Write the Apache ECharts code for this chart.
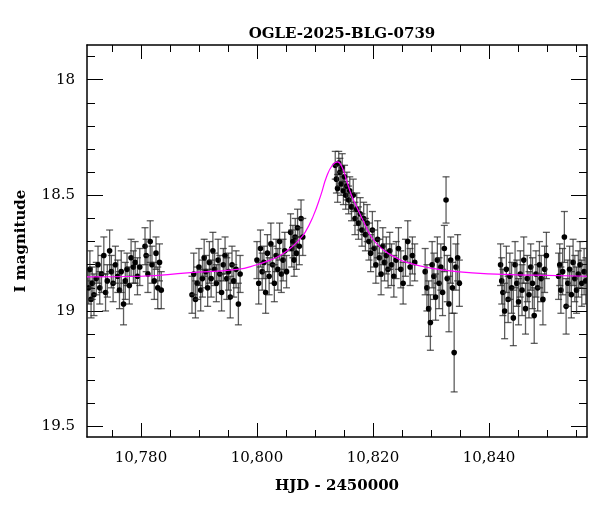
<!DOCTYPE html>
<html>
<head>
<meta charset="utf-8" />
<title>OGLE-2025-BLG-0739</title>
<script src="https://cdn.jsdelivr.net/npm/echarts@6.0.0/dist/echarts.min.js"></script>
<style>
  html, body { margin: 0; background: #fff; }
  #chart { width: 600px; height: 512px; }
</style>
</head>
<body>
<div id="chart"></div>
<script>
// photometry: [HJD-2450000, I mag, error]
const points = [
  [10771.0,18.90,0.07],[10771.2,18.82,0.08],[10771.4,18.95,0.08],[10771.6,18.88,0.07],[10771.9,18.93,0.09],
  [10772.3,18.86,0.07],[10772.6,18.80,0.08],[10772.9,18.90,0.07],[10773.2,18.84,0.08],[10773.6,18.76,0.08],
  [10773.9,18.92,0.08],[10774.2,18.87,0.07],[10774.6,18.74,0.09],[10774.9,18.83,0.07],[10775.2,18.88,0.08],
  [10775.6,18.80,0.08],[10776.0,18.85,0.07],[10776.3,18.91,0.08],[10776.6,18.83,0.09],[10777.0,18.97,0.09],
  [10777.3,18.87,0.08],[10777.6,18.82,0.07],[10778.0,18.89,0.08],[10778.3,18.77,0.08],[10778.7,18.81,0.07],
  [10779.0,18.79,0.09],[10779.4,18.85,0.08],[10779.8,18.81,0.08],
  [10780.7,18.72,0.08],[10780.9,18.76,0.07],[10781.2,18.84,0.08],[10781.6,18.70,0.09],[10781.9,18.80,0.08],
  [10782.3,18.87,0.08],[10782.6,18.75,0.07],[10782.9,18.90,0.09],[10783.2,18.79,0.08],[10783.5,18.91,0.08],
  [10788.8,18.93,0.08],[10789.1,18.84,0.09],[10789.4,18.95,0.08],[10789.7,18.88,0.07],[10790.0,18.81,0.08],
  [10790.3,18.91,0.09],[10790.6,18.86,0.08],[10790.9,18.77,0.08],[10791.2,18.83,0.07],[10791.5,18.90,0.08],
  [10791.8,18.79,0.09],[10792.1,18.86,0.08],[10792.4,18.74,0.08],[10792.7,18.82,0.07],[10793.0,18.88,0.08],
  [10793.3,18.78,0.09],[10793.6,18.84,0.08],[10793.9,18.92,0.08],[10794.2,18.80,0.07],[10794.5,18.76,0.08],
  [10794.8,18.86,0.09],[10795.1,18.83,0.08],[10795.4,18.94,0.09],[10795.7,18.80,0.08],[10796.0,18.87,0.07],
  [10796.4,18.82,0.08],[10796.8,18.97,0.09],[10797.1,18.84,0.08],
  [10800.0,18.78,0.08],[10800.3,18.88,0.09],[10800.6,18.73,0.08],[10800.9,18.83,0.08],[10801.2,18.79,0.07],
  [10801.5,18.92,0.09],[10801.8,18.75,0.08],[10802.1,18.85,0.08],[10802.4,18.71,0.09],[10802.7,18.80,0.08],
  [10803.0,18.88,0.08],[10803.3,18.76,0.07],[10803.6,18.82,0.09],[10803.9,18.70,0.08],[10804.2,18.84,0.08],
  [10804.5,18.78,0.09],[10804.8,18.74,0.08],[10805.1,18.83,0.07],
  [10805.8,18.66,0.08],[10806.0,18.73,0.08],[10806.2,18.70,0.07],[10806.4,18.78,0.07],[10806.6,18.68,0.08],
  [10806.8,18.75,0.07],[10807.0,18.64,0.08],[10807.3,18.72,0.08],[10807.6,18.60,0.08],[10807.9,18.68,0.08],
  [10813.5,18.37,0.06],[10813.7,18.43,0.06],[10813.9,18.47,0.06],[10814.1,18.36,0.05],[10814.3,18.40,0.06],
  [10814.5,18.45,0.05],[10814.7,18.38,0.06],[10814.9,18.48,0.06],[10815.1,18.42,0.05],[10815.3,18.50,0.06],
  [10815.5,18.46,0.06],[10815.8,18.52,0.06],[10816.0,18.48,0.06],[10816.3,18.55,0.06],[10816.6,18.50,0.07],
  [10816.9,18.60,0.07],[10817.2,18.56,0.07],[10817.5,18.62,0.07],[10817.8,18.58,0.07],[10818.1,18.65,0.07],
  [10818.4,18.60,0.07],[10818.7,18.67,0.07],[10819.0,18.62,0.08],[10819.3,18.70,0.08],[10819.6,18.75,0.08],
  [10819.9,18.65,0.08],[10820.2,18.73,0.08],[10820.5,18.80,0.08],[10820.8,18.69,0.08],[10821.1,18.77,0.08],
  [10821.4,18.84,0.09],[10821.7,18.72,0.08],[10822.0,18.79,0.08],[10822.3,18.76,0.08],[10822.6,18.82,0.08],
  [10822.9,18.74,0.08],[10823.2,18.80,0.09],[10823.6,18.85,0.09],[10824.0,18.78,0.08],[10824.4,18.73,0.09],
  [10824.8,18.82,0.08],[10825.2,18.88,0.09],[10825.6,18.77,0.08],[10826.0,18.70,0.09],[10826.4,18.81,0.08],
  [10826.8,18.76,0.08],[10827.2,18.79,0.08],
  [10829.0,18.83,0.10],[10829.3,18.90,0.10],[10829.6,18.99,0.12],[10829.9,19.05,0.12],[10830.2,18.80,0.10],
  [10830.5,18.85,0.10],[10830.8,18.94,0.10],[10831.1,18.78,0.10],[10831.4,18.88,0.11],[10831.7,18.81,0.10],
  [10832.0,18.92,0.10],[10832.3,18.73,0.10],[10832.6,18.52,0.10],[10832.8,18.86,0.10],[10833.1,18.97,0.12],
  [10833.4,18.78,0.10],[10833.7,18.90,0.11],[10834.0,19.18,0.17],[10834.3,18.81,0.10],[10834.6,18.77,0.10],
  [10834.9,18.88,0.10],
  [10842.0,18.80,0.09],[10842.2,18.87,0.10],[10842.4,18.92,0.10],[10842.7,19.00,0.12],[10843.0,18.82,0.10],
  [10843.3,18.95,0.10],[10843.6,18.85,0.10],[10843.9,18.90,0.11],[10844.2,19.03,0.12],[10844.5,18.80,0.10],
  [10844.8,18.88,0.10],[10845.1,18.96,0.10],[10845.4,18.84,0.10],[10845.7,18.91,0.11],[10846.0,18.78,0.10],
  [10846.3,18.99,0.11],[10846.6,18.86,0.10],[10846.9,18.93,0.10],[10847.2,18.81,0.10],[10847.5,18.88,0.11],
  [10847.8,19.02,0.12],[10848.1,18.84,0.10],[10848.4,18.90,0.10],[10848.7,18.80,0.10],[10849.0,18.86,0.10],
  [10849.3,18.95,0.11],[10849.6,18.82,0.10],[10849.9,18.76,0.10],
  [10852.0,18.85,0.10],[10852.2,18.80,0.09],[10852.4,18.91,0.10],[10852.7,18.83,0.10],[10853.0,18.68,0.11],
  [10853.3,18.98,0.12],[10853.6,18.88,0.10],[10853.9,18.82,0.10],[10854.2,18.93,0.10],[10854.5,18.79,0.10],
  [10854.8,18.86,0.10],[10855.1,18.91,0.10],[10855.4,18.84,0.10],[10855.7,18.80,0.10],[10856.0,18.88,0.10],
  [10856.4,18.83,0.10],[10856.7,18.87,0.10]
];

// fitted model curve
const model = [
  [10770.7,18.853],[10780,18.85],[10788,18.835],[10796.6,18.82],[10800,18.80],[10802.3,18.78],
  [10804,18.76],[10805.7,18.73],[10807,18.70],[10808.3,18.66],[10809.7,18.59],[10811,18.50],
  [10812,18.42],[10813,18.37],[10813.9,18.355],[10814.7,18.38],[10815.5,18.44],[10816.3,18.50],
  [10817.2,18.55],[10818.5,18.62],[10820,18.69],[10822,18.74],[10824,18.77],[10825.8,18.79],
  [10830,18.815],[10834.4,18.83],[10840,18.84],[10848,18.845],[10856.9,18.85]
];

const xLabels = [10780, 10800, 10820, 10840];
const xMinor = [10775, 10785, 10790, 10795, 10805, 10810, 10815, 10825, 10830, 10835, 10845, 10850, 10855];
const yLabels = [18, 18.5, 19, 19.5];
const yMinor = [17.9, 18.1, 18.2, 18.3, 18.4, 18.6, 18.7, 18.8, 18.9, 19.1, 19.2, 19.3, 19.4];

const X_MIN = 10770.7, X_MAX = 10856.9, Y_MIN = 17.85, Y_MAX = 19.545;
const font = 'DejaVu Serif';

const chart = echarts.init(document.getElementById('chart'));

function xAx(pos, ticks, len, labels, line) {
  return {
    type: 'value', min: X_MIN, max: X_MAX, position: pos,
    axisLine: { show: line, onZero: false, lineStyle: { color: '#000', width: 1.5 } },
    axisTick: { show: true, inside: true, length: len, customValues: ticks, lineStyle: { color: '#000' } },
    axisLabel: { show: labels, customValues: xLabels, color: '#000', fontFamily: font, fontSize: 15, margin: 14 },
    splitLine: { show: false }
  };
}
function yAx(pos, ticks, len, labels, line) {
  return {
    type: 'value', min: Y_MIN, max: Y_MAX, inverse: true, position: pos,
    axisLine: { show: line, onZero: false, lineStyle: { color: '#000', width: 1.5 } },
    axisTick: { show: true, inside: true, length: len, customValues: ticks, lineStyle: { color: '#000' } },
    axisLabel: { show: labels, customValues: yLabels, color: '#000', fontFamily: font, fontSize: 15, margin: 12,
      formatter: v => String(v) },
    splitLine: { show: false }
  };
}

const option = {
  animation: false,
  backgroundColor: '#fff',
  title: { text: 'OGLE-2025-BLG-0739', left: 337, top: 22, textAlign: 'center',
    textStyle: { fontFamily: font, fontSize: 15, fontWeight: 'bold', color: '#000' } },
  grid: { left: 87, right: 13, top: 45, bottom: 75 },
  xAxis: [
    Object.assign(xAx('bottom', xLabels, 14, true, true), { name: 'HJD - 2450000', nameLocation: 'middle', nameGap: 42,
      nameTextStyle: { fontFamily: font, fontSize: 15, fontWeight: 'bold', color: '#000' } }),
    xAx('bottom', xMinor, 7, false, false),
    xAx('top', xLabels, 14, false, true),
    xAx('top', xMinor, 7, false, false)
  ],
  yAxis: [
    Object.assign(yAx('left', yLabels, 16, true, true), { name: 'I magnitude', nameLocation: 'middle', nameGap: 58,
      nameTextStyle: { fontFamily: font, fontSize: 15, fontWeight: 'bold', color: '#000' } }),
    yAx('left', yMinor, 8, false, false),
    yAx('right', yLabels, 16, false, true),
    yAx('right', yMinor, 8, false, false)
  ],
  series: [
    {
      type: 'custom',
      data: points,
      clip: true,
      z: 2,
      renderItem: (params, api) => {
        const x = api.value(0), y = api.value(1), e = api.value(2);
        const top = api.coord([x, y - e]);
        const bot = api.coord([x, y + e]);
        const c = api.coord([x, y]);
        const style = { stroke: 'rgba(40,40,40,0.75)', lineWidth: 1.3 };
        return {
          type: 'group',
          children: [
            { type: 'line', shape: { x1: top[0], y1: top[1], x2: bot[0], y2: bot[1] }, style },
            { type: 'line', shape: { x1: top[0] - 3.5, y1: top[1], x2: top[0] + 3.5, y2: top[1] }, style },
            { type: 'line', shape: { x1: bot[0] - 3.5, y1: bot[1], x2: bot[0] + 3.5, y2: bot[1] }, style },
            { type: 'circle', shape: { cx: c[0], cy: c[1], r: 2.8 }, style: { fill: '#000' } }
          ]
        };
      }
    },
    {
      type: 'line',
      data: model,
      smooth: true,
      showSymbol: false,
      z: 3,
      lineStyle: { color: '#ff00ff', width: 1.2 }
    }
  ]
};
chart.setOption(option);
</script>
</body>
</html>
